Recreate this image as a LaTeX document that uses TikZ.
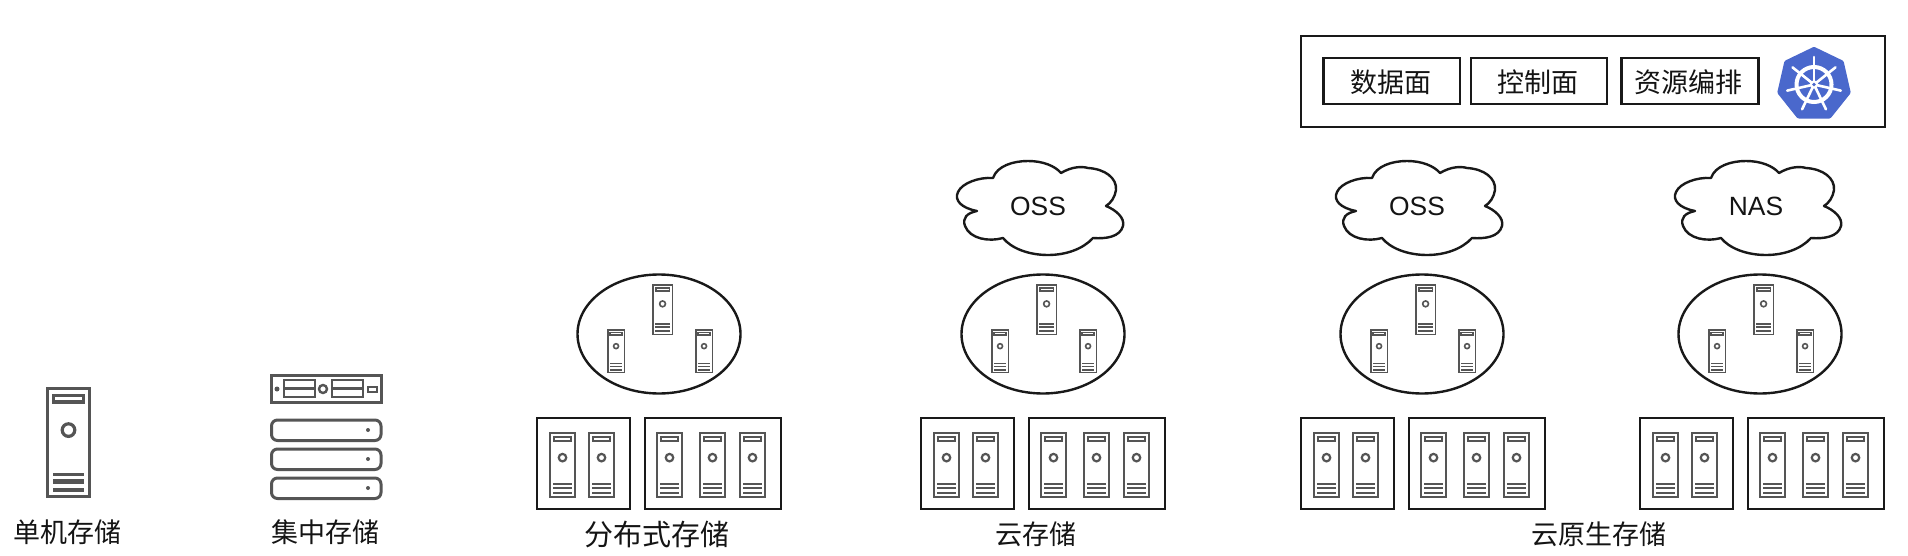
\documentclass[tikz,border=0pt]{standalone}
\usepackage{fontspec}
\setmainfont{Noto Sans CJK SC}
\newfontfamily\latfont{Liberation Sans}
\definecolor{srvgray}{HTML}{555555}
\definecolor{kblue}{HTML}{4A68CC}
\tikzset{
  lbl/.style={font=\fontsize{27}{30}\selectfont,text=black!92,inner sep=0pt,anchor=center},
  biglbl/.style={font=\fontsize{29}{32}\selectfont,text=black!92,inner sep=0pt,anchor=center},
  cloudlbl/.style={font=\latfont\fontsize{26.4}{30}\selectfont,text=black!92,inner sep=0pt,anchor=center},
  frame/.style={draw=black!90,line width=2.6pt,fill=white},
  rackline/.style={draw=srvgray,line width=3pt},
}
% server: x y w h linewidth
\newcommand{\srvicon}[5]{%
  \begin{scope}[shift={(#1,#2)},x=#3pt,y=-#4pt,draw=srvgray,line width=#5pt]
    \draw (0,0) rectangle (1,1);
    \draw (0.15,0.065) rectangle (0.85,0.125);
    \draw (0.5,0.385) circle[radius=0.15*#3pt];
    \fill[srvgray] (0.13,0.78) rectangle (0.87,0.81);
    \fill[srvgray] (0.13,0.84) rectangle (0.87,0.88);
    \fill[srvgray] (0.13,0.92) rectangle (0.87,0.96);
  \end{scope}}
% cluster: ellipse offset, boxes offset
\newcommand{\clusterset}[2]{%
  \begin{scope}[shift={(#1,0)}]
    \draw[black!90,line width=2.4pt] (659,334) ellipse[x radius=81.5pt,y radius=59.5pt];
    \srvicon{652.8}{284.8}{19.5}{49.5}{1.6}
    \srvicon{607.8}{329.8}{16.5}{42.5}{1.6}
    \srvicon{695.8}{329.8}{16.5}{42.5}{1.6}
  \end{scope}
  \begin{scope}[shift={(#2,0)}]
    \draw[frame] (537,418) rectangle (630,509);
    \draw[frame] (645,418) rectangle (781,509);
    \srvicon{550}{433}{25}{64}{2.2}
    \srvicon{589}{433}{25}{64}{2.2}
    \srvicon{657}{433}{25}{64}{2.2}
    \srvicon{700}{433}{25}{64}{2.2}
    \srvicon{740}{433}{25}{64}{2.2}
  \end{scope}}
% cloud: x offset
\newcommand{\cloudshape}[1]{%
  \begin{scope}[shift={(#1,0)}]
    \draw[black!90,line width=2.4pt,line join=round]
      (1356,211) .. controls (1340,208) and (1333,200) .. (1337,192)
      .. controls (1341,183) and (1358,177) .. (1372,178)
      .. controls (1376,166) and (1392,161) .. (1407,161)
      .. controls (1422,161) and (1434,166) .. (1440,173)
      .. controls (1450,167) and (1460,166) .. (1467,168)
      .. controls (1484,169) and (1496,178) .. (1495,190)
      .. controls (1494,197) and (1490,203) .. (1485,206)
      .. controls (1495,210) and (1504,218) .. (1502,226)
      .. controls (1499,237) and (1485,239) .. (1472,238)
      .. controls (1462,249) and (1445,255) .. (1427,255)
      .. controls (1407,255) and (1390,248) .. (1382,238)
      .. controls (1368,242) and (1349,239) .. (1344,226)
      .. controls (1341,218) and (1346,213) .. (1356,211) -- cycle;
  \end{scope}}
\begin{document}
\begin{tikzpicture}[x=1pt,y=-1pt]
\useasboundingbox[fill=white] (0,0) rectangle (1908,556);

% single server
\srvicon{47.5}{388.5}{42}{108}{3.2}
\node[lbl] (single) at (67,532) {单机存储};

% centralised
\draw[rackline] (271.5,375.5) rectangle (381,402);
\fill[srvgray] (277,389) circle[radius=2.5pt];
\draw[draw=srvgray,line width=2.4pt] (284,380) rectangle (315,397) (284,388.5) -- (315,388.5);
\draw[draw=srvgray,line width=2.4pt] (323,389) circle[radius=4pt];
\draw[draw=srvgray,line width=2.4pt] (332,380) rectangle (363,397) (332,388.5) -- (363,388.5);
\draw[draw=srvgray,line width=2.4pt] (368,387) rectangle (377,392);
\foreach \yy in {420,449,478}{
  \draw[rackline,rounded corners=6pt] (271.5,\yy) rectangle (381,\yy+20.5);
  \fill[srvgray] (368,\yy+10) circle[radius=2pt];
}
\node[lbl] (central) at (325,532) {集中存储};

% clusters
\clusterset{0}{0}
\clusterset{384}{384}
\clusterset{763}{764}
\clusterset{1101}{1103}

\node[biglbl] (dist) at (657,534) {分布式存储};
\node[lbl] (cloudst) at (1036,534) {云存储};
\node[lbl] (native) at (1599,534) {云原生存储};

% clouds
\cloudshape{-379}
\cloudshape{0}
\cloudshape{339}
\node[cloudlbl] (ossa) at (1038,206) {OSS};
\node[cloudlbl] (ossb) at (1417,206) {OSS};
\node[cloudlbl] (nas) at (1756,206) {NAS};

% control plane
\draw[frame] (1301,36) rectangle (1885,127);
\draw[frame] (1323.5,58) rectangle (1460,104);
\draw[frame] (1471,58) rectangle (1607,104);
\draw[frame] (1621.5,58) rectangle (1758.5,104);
\node[lbl] (data) at (1390.5,82) {数据面};
\node[lbl] (ctrl) at (1538,82) {控制面};
\node[lbl] (orch) at (1688,82) {资源编排};

% kubernetes logo (y axis points down, so -90 is the top vertex)
\begin{scope}[shift={(1814,84.5)}]
  \fill[kblue,draw=kblue,line width=5pt,line join=round]
    (-90:35) -- (-38.57:35) -- (12.86:35) -- (64.29:35) -- (115.71:35) -- (167.14:35) -- (218.57:35) -- cycle;
  \draw[white,line width=4pt] (0,0) circle[radius=17.5pt];
  \foreach \ang in {-90,-38.57,12.86,64.29,115.71,167.14,218.57}{
    \draw[white,line width=2.6pt,line cap=round] (\ang:3) -- (\ang:27.5);
  }
  \fill[white] (0,0) circle[radius=4.2pt];
  \fill[kblue] (0,0) circle[radius=1.8pt];
\end{scope}
\end{tikzpicture}
\end{document}
